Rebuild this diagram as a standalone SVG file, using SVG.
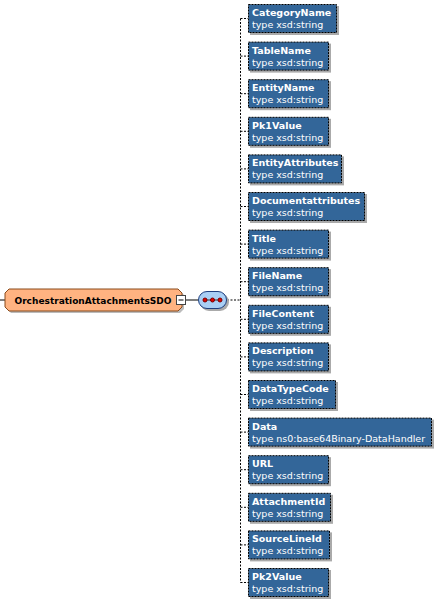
<svg xmlns="http://www.w3.org/2000/svg" width="438" height="605" viewBox="0 0 438 605">
<style>
.bx{fill:#336699;stroke:#000;stroke-width:1;stroke-dasharray:2,1}
.sh{fill:#aaaaaa}
.nm{font-family:"DejaVu Sans",sans-serif;font-size:9.5px;font-weight:bold;fill:#fff}
.tp{font-family:"DejaVu Sans",sans-serif;font-size:9.5px;fill:#fff}
.cn{stroke:#000;stroke-width:1;stroke-dasharray:2,1.5;fill:none}
</style>
<rect width="438" height="605" fill="#fff"/>
<g id="connectors">
<line class="cn" x1="240.5" y1="18.5" x2="240.5" y2="582.5"/>
<line class="cn" x1="227" y1="300" x2="240.5" y2="300"/>
<line x1="0" y1="300" x2="5" y2="300" stroke="#000"/>
<line x1="186" y1="300" x2="198" y2="300" stroke="#000"/>
<path class="cn" d="M240.5 18.5H248M240.5 56.1H248M240.5 93.7H248M240.5 131.3H248M240.5 168.9H248M240.5 206.5H248M240.5 244.1H248M240.5 281.7H248M240.5 319.3H248M240.5 356.9H248M240.5 394.5H248M240.5 432.1H248M240.5 469.7H248M240.5 507.3H248M240.5 544.9H248M240.5 582.5H248"/>
</g>
<g id="OrchestrationAttachmentsSDO">
<polygon points="11,291 180,291 184,295 184,309 180,313 11,313 7,309 7,295" fill="#bbbbbb"/>
<polygon points="9,289 178,289 182,293 182,307 178,311 9,311 5,307 5,293" fill="#ffb381" stroke="#8a4a1a" stroke-width="1"/>
<text x="93" y="303.5" text-anchor="middle" font-family="DejaVu Sans,sans-serif" font-size="9" font-weight="bold" fill="#000" textLength="157" lengthAdjust="spacingAndGlyphs">OrchestrationAttachmentsSDO</text>
<rect x="176.5" y="295.5" width="9" height="9" fill="#fff" stroke="#444"/>
<line x1="178.5" y1="300" x2="183.5" y2="300" stroke="#000"/>
</g>
<g id="sequence">
<rect x="200" y="293" width="29" height="18" rx="9" fill="#aaaaaa"/>
<rect x="198.5" y="291.5" width="28" height="17" rx="8.5" fill="#a9cff5" stroke="#1f3f7f" stroke-width="1"/>
<line x1="205" y1="300" x2="220" y2="300" stroke="#333"/>
<circle cx="205" cy="300" r="2" fill="#e00000" stroke="#700"/>
<circle cx="212.5" cy="300" r="2" fill="#e00000" stroke="#700"/>
<circle cx="220" cy="300" r="2" fill="#e00000" stroke="#700"/>
</g>
<g id="CategoryName"><rect class="sh" x="250" y="6" width="89" height="29"/><rect class="bx" x="248.5" y="4.5" width="88" height="28"/><text class="nm" x="252" y="16">CategoryName</text><text class="tp" x="252" y="28">type xsd:string</text></g>
<g id="TableName"><rect class="sh" x="250" y="43.6" width="81" height="29"/><rect class="bx" x="248.5" y="42.1" width="80" height="28"/><text class="nm" x="252" y="53.6">TableName</text><text class="tp" x="252" y="65.6">type xsd:string</text></g>
<g id="EntityName"><rect class="sh" x="250" y="81.2" width="81" height="29"/><rect class="bx" x="248.5" y="79.7" width="80" height="28"/><text class="nm" x="252" y="91.2">EntityName</text><text class="tp" x="252" y="103.2">type xsd:string</text></g>
<g id="Pk1Value"><rect class="sh" x="250" y="118.8" width="81" height="29"/><rect class="bx" x="248.5" y="117.3" width="80" height="28"/><text class="nm" x="252" y="128.8">Pk1Value</text><text class="tp" x="252" y="140.8">type xsd:string</text></g>
<g id="EntityAttributes"><rect class="sh" x="250" y="156.4" width="94" height="29"/><rect class="bx" x="248.5" y="154.9" width="93" height="28"/><text class="nm" x="252" y="166.4">EntityAttributes</text><text class="tp" x="252" y="178.4">type xsd:string</text></g>
<g id="Documentattributes"><rect class="sh" x="250" y="194" width="117" height="29"/><rect class="bx" x="248.5" y="192.5" width="116" height="28"/><text class="nm" x="252" y="204">Documentattributes</text><text class="tp" x="252" y="216">type xsd:string</text></g>
<g id="Title"><rect class="sh" x="250" y="231.6" width="81" height="29"/><rect class="bx" x="248.5" y="230.1" width="80" height="28"/><text class="nm" x="252" y="241.6">Title</text><text class="tp" x="252" y="253.6">type xsd:string</text></g>
<g id="FileName"><rect class="sh" x="250" y="269.2" width="81" height="29"/><rect class="bx" x="248.5" y="267.7" width="80" height="28"/><text class="nm" x="252" y="279.2">FileName</text><text class="tp" x="252" y="291.2">type xsd:string</text></g>
<g id="FileContent"><rect class="sh" x="250" y="306.8" width="81" height="29"/><rect class="bx" x="248.5" y="305.3" width="80" height="28"/><text class="nm" x="252" y="316.8">FileContent</text><text class="tp" x="252" y="328.8">type xsd:string</text></g>
<g id="Description"><rect class="sh" x="250" y="344.4" width="81" height="29"/><rect class="bx" x="248.5" y="342.9" width="80" height="28"/><text class="nm" x="252" y="354.4">Description</text><text class="tp" x="252" y="366.4">type xsd:string</text></g>
<g id="DataTypeCode"><rect class="sh" x="250" y="382" width="88" height="29"/><rect class="bx" x="248.5" y="380.5" width="87" height="28"/><text class="nm" x="252" y="392">DataTypeCode</text><text class="tp" x="252" y="404">type xsd:string</text></g>
<g id="Data"><rect class="sh" x="250" y="419.6" width="184" height="29"/><rect class="bx" x="248.5" y="418.1" width="183" height="28"/><text class="nm" x="252" y="429.6">Data</text><text class="tp" x="252" y="441.6">type ns0:base64Binary-DataHandler</text></g>
<g id="URL"><rect class="sh" x="250" y="457.2" width="81" height="29"/><rect class="bx" x="248.5" y="455.7" width="80" height="28"/><text class="nm" x="252" y="467.2">URL</text><text class="tp" x="252" y="479.2">type xsd:string</text></g>
<g id="AttachmentId"><rect class="sh" x="250" y="494.8" width="83" height="29"/><rect class="bx" x="248.5" y="493.3" width="82" height="28"/><text class="nm" x="252" y="504.8">AttachmentId</text><text class="tp" x="252" y="516.8">type xsd:string</text></g>
<g id="SourceLineId"><rect class="sh" x="250" y="532.4" width="82" height="29"/><rect class="bx" x="248.5" y="530.9" width="81" height="28"/><text class="nm" x="252" y="542.4">SourceLineId</text><text class="tp" x="252" y="554.4">type xsd:string</text></g>
<g id="Pk2Value"><rect class="sh" x="250" y="570" width="81" height="29"/><rect class="bx" x="248.5" y="568.5" width="80" height="28"/><text class="nm" x="252" y="580">Pk2Value</text><text class="tp" x="252" y="592">type xsd:string</text></g>
</svg>
